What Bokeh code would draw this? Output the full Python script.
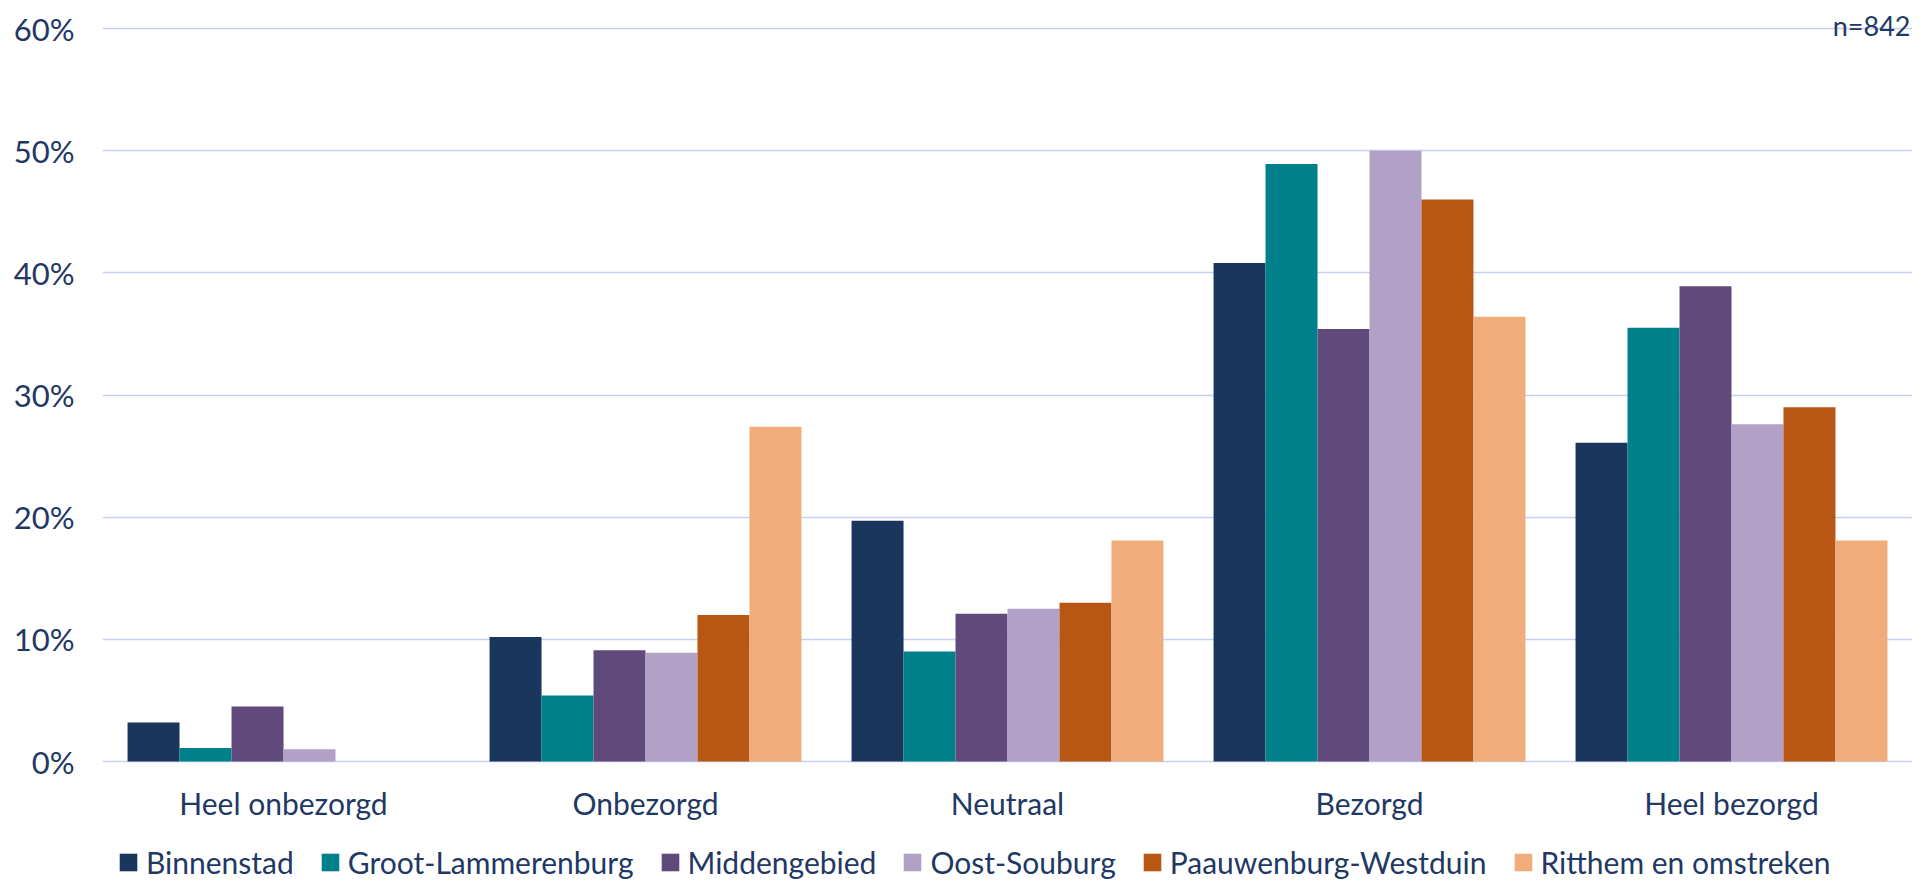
from bokeh.plotting import figure
from bokeh.models import (ColumnDataSource, FactorRange, Range1d, FixedTicker,
                          NumeralTickFormatter, Legend, LegendItem, Label)
from bokeh.transform import dodge
from bokeh.embed import file_html
from bokeh.resources import INLINE
from bokeh.core.properties import value

categories = ["Heel onbezorgd", "Onbezorgd", "Neutraal", "Bezorgd", "Heel bezorgd"]
series = ["Binnenstad", "Groot-Lammerenburg", "Middengebied", "Oost-Souburg",
          "Paauwenburg-Westduin", "Ritthem en omstreken"]
binnenstad = [0.032, 0.102, 0.197, 0.408, 0.261]
groot_lammerenburg = [0.011, 0.054, 0.090, 0.489, 0.355]
middengebied = [0.045, 0.091, 0.121, 0.354, 0.389]
oost_souburg = [0.010, 0.089, 0.125, 0.500, 0.276]
paauwenburg_westduin = [0.0, 0.120, 0.130, 0.460, 0.290]
ritthem_en_omstreken = [0.0, 0.274, 0.181, 0.364, 0.181]
colors = ["#1B365D", "#00808A", "#5F4A7B", "#B1A1C7", "#B85614", "#F0AD7B"]
y_ticks = [0, 0.1, 0.2, 0.3, 0.4, 0.5, 0.6]
note = "n=842"

values = [binnenstad, groot_lammerenburg, middengebied, oost_souburg,
          paauwenburg_westduin, ritthem_en_omstreken]
keys = ["s%d" % i for i in range(len(series))]
data = {"cat": categories}
for k, v in zip(keys, values):
    data[k] = v
source = ColumnDataSource(data)

FONT = "Lato"
TXT = "#1F3864"

W, H = 1932, 880
LEFT, RIGHT, TOP0, ZERO = 102, 1912, 28, 761   # pixel layout of the plot area
ppu = (ZERO - TOP0) / 0.6                          # pixels per unit of share
y_start = -(H - ZERO) / ppu
y_end = 0.6 + TOP0 / ppu

p = figure(width=W, height=H, x_range=FactorRange(*categories),
           y_range=Range1d(y_start, y_end), output_backend="svg",
           toolbar_location=None, x_axis_location=None, title=None,
           min_border_left=LEFT, min_border_right=W - RIGHT, min_border_top=0,
           min_border_bottom=0)
p.outline_line_color = None

bw = 0.1436
items = []
for i, (k, name, c) in enumerate(zip(keys, series, colors)):
    r = p.vbar(x=dodge("cat", (i - 2.5) * bw, range=p.x_range), top=k, bottom=0,
               width=bw, source=source, fill_color=c, line_color=None)
    items.append(LegendItem(label=name, renderers=[r]))

p.yaxis.ticker = FixedTicker(ticks=y_ticks)
p.yaxis.formatter = NumeralTickFormatter(format="0%")
p.yaxis.axis_line_color = None
p.yaxis.major_tick_line_color = None
p.yaxis.minor_tick_line_color = None
p.yaxis.major_label_text_font = FONT
p.yaxis.major_label_text_font_size = "31px"
p.yaxis.major_label_text_color = TXT
p.yaxis.major_label_standoff = 22

p.xgrid.grid_line_color = None
p.ygrid.ticker = FixedTicker(ticks=y_ticks)
p.ygrid.grid_line_color = "#C8CEF4"
p.ygrid.grid_line_width = 1.5

# category labels under the groups
p.text(x="cat", y=-41.5 / ppu, text="cat", source=source, text_align="center",
       text_baseline="middle", text_font=value(FONT), text_font_size="30px",
       text_color=TXT)

legend = Legend(items=items, orientation="horizontal", location=(15, 0),
                glyph_width=22, glyph_height=22, label_standoff=7, spacing=25,
                padding=0, margin=0, border_line_alpha=0, background_fill_alpha=0,
                label_text_font=FONT, label_text_font_size="30px",
                label_text_color=TXT)
p.add_layout(legend, "center")

p.add_layout(Label(x=5.0, y=0.6 + 3 / ppu, x_offset=-2, text=note,
                   text_align="right", text_baseline="middle", text_font=FONT,
                   text_font_size="27px", text_color=TXT))

open("out.html", "w").write(file_html(p, INLINE))
